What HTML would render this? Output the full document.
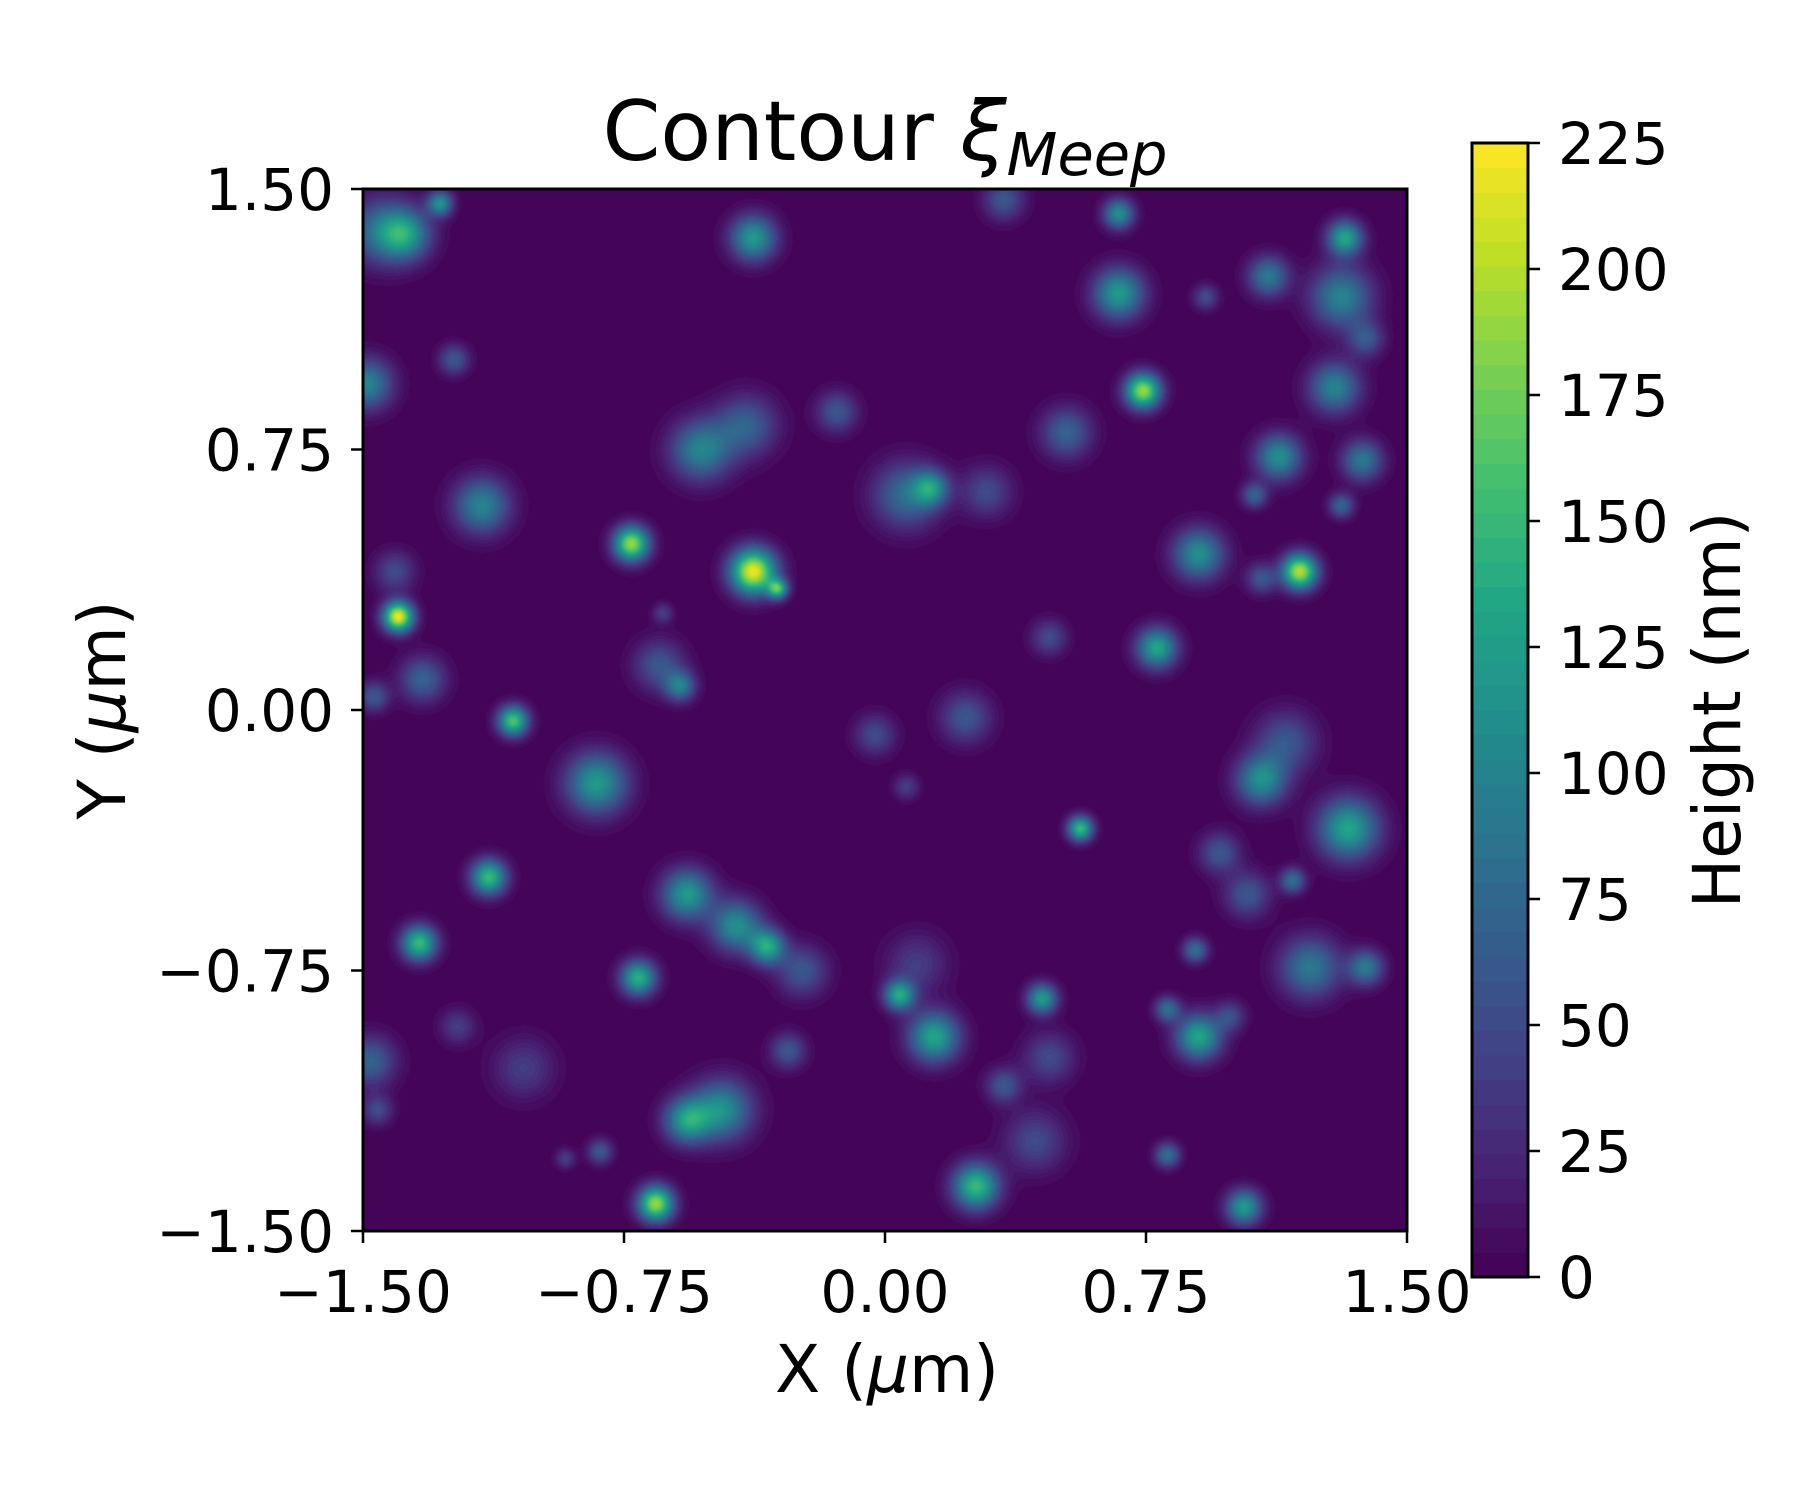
<!DOCTYPE html>
<html><head><meta charset="utf-8">
<style>
html,body{margin:0;padding:0;background:#fff;}
#wrap{position:relative;width:1800px;height:1500px;overflow:hidden;font-family:"DejaVu Sans","Liberation Sans",sans-serif;}
canvas{position:absolute;left:363px;top:189px;}
svg{position:absolute;left:0;top:0;}
</style></head>
<body>
<div id="wrap">
<canvas id="heat" width="1044" height="1042"></canvas>
<svg id="ov" width="1800" height="1500"></svg>
</div>
<script>
// blob data (x, y in µm, height in nm, width sigma in µm)
const blobX=[-1.38,-1.28,-1.45,-0.38,0.34,0.67,0.67,0.92,1.10,1.32,1.31,1.38,1.29,1.37,1.13,1.06,1.31,1.19,1.08,0.74,0.52,0.90,0.78,0.47,0.23,-0.03,0.06,0.13,0.06,0.29,-0.14,-0.53,-0.40,-1.16,-0.73,-0.38,-0.31,-1.41,-1.40,-1.33,-1.47,-1.49,-1.24,-0.64,-0.65,-0.59,-1.07,-0.83,0.56,1.08,1.15,1.33,0.96,1.04,1.17,-1.14,-1.34,-0.71,-0.57,-0.43,-0.34,-0.24,-0.28,0.04,0.09,0.14,0.45,0.47,0.89,0.81,0.90,0.99,1.22,1.38,-1.23,-1.04,-1.48,-1.46,-0.57,-0.47,0.34,0.43,-0.82,-0.92,-0.66,0.26,0.81,1.03];
const blobY=[1.37,1.46,1.38,1.36,1.47,1.43,1.20,1.19,1.25,1.36,1.19,1.07,0.93,0.72,0.73,0.62,0.59,0.40,0.38,0.92,0.80,0.45,0.18,0.21,-0.02,-0.07,-0.22,0.64,0.62,0.63,0.86,0.75,0.82,0.59,0.48,0.40,0.35,0.40,0.27,0.09,0.04,0.94,1.01,0.28,0.13,0.07,-0.03,-0.21,-0.34,-0.20,-0.09,-0.34,-0.41,-0.53,-0.49,-0.48,-0.67,-0.77,-0.53,-0.62,-0.68,-0.75,-0.98,-0.82,-0.73,-0.94,-0.83,-1.00,-0.69,-0.86,-0.94,-0.88,-0.74,-0.74,-0.91,-1.03,-1.01,-1.15,-1.18,-1.15,-1.08,-1.24,-1.27,-1.29,-1.42,-1.37,-1.28,-1.43];
const blobH=[105,110,80,120,60,110,120,50,90,130,100,60,100,90,110,70,70,200,60,190,70,110,130,50,60,50,40,100,80,50,60,100,70,100,190,220,140,50,220,70,60,100,60,40,60,90,160,120,150,110,60,130,60,60,80,150,150,140,120,110,130,60,60,130,40,130,120,50,80,80,130,50,90,90,40,40,70,50,120,110,60,50,60,40,190,150,80,120];
const blobS=[0.05,0.025,0.065,0.045,0.04,0.03,0.05,0.025,0.04,0.035,0.06,0.035,0.05,0.04,0.045,0.025,0.025,0.035,0.03,0.035,0.05,0.05,0.04,0.035,0.05,0.04,0.025,0.035,0.065,0.05,0.04,0.06,0.06,0.055,0.035,0.045,0.02,0.04,0.03,0.045,0.03,0.05,0.03,0.02,0.05,0.03,0.03,0.06,0.025,0.05,0.06,0.06,0.04,0.045,0.025,0.035,0.035,0.035,0.05,0.05,0.035,0.05,0.035,0.03,0.06,0.05,0.03,0.05,0.025,0.025,0.045,0.03,0.06,0.035,0.035,0.06,0.05,0.03,0.045,0.06,0.035,0.06,0.025,0.02,0.035,0.045,0.025,0.035];
const xTicks=[-1.5,-0.75,0,0.75,1.5];
const xTickLabels=["\u22121.50","\u22120.75","0.00","0.75","1.50"];
const yTicks=[-1.5,-0.75,0,0.75,1.5];
const yTickLabels=["\u22121.50","\u22120.75","0.00","0.75","1.50"];
const cbTicks=[0,25,50,75,100,125,150,175,200,225];
const vmax=225, nLevels=46;

const PL=363,PT=189,PW=1044,PH=1042;
const CBL=1472,CBT=143,CBW=56,CBH=1134;
function sx(v){return PL+(v+1.5)/3*PW;}
function sy(v){return PT+(1.5-v)/3*PH;}
function cy(v){return CBT+CBH-(v/vmax)*CBH;}

const vir=[[68,1,84],[72,36,117],[65,68,135],[53,95,141],[42,120,142],[33,145,140],[34,168,132],[68,191,112],[122,209,81],[189,223,38],[253,231,37]];
function viridis(t){t=Math.max(0,Math.min(1,t));const f=t*(vir.length-1);const i=Math.min(vir.length-2,Math.floor(f));const r=f-i;const a=vir[i],b=vir[i+1];return [a[0]+(b[0]-a[0])*r,a[1]+(b[1]-a[1])*r,a[2]+(b[2]-a[2])*r];}
function levelColor(k){return viridis((k+0.5)/nLevels);}

const cv=document.getElementById('heat');const ctx=cv.getContext('2d');
const field=new Float32Array(PW*PH);
for(let b=0;b<blobX.length;b++){
  const s=blobS[b],h=blobH[b];
  const cx=(blobX[b]+1.5)/3*PW, cyy=(1.5-blobY[b])/3*PH;
  const sp=s/3*PW, R=sp*4.5;
  const x0=Math.max(0,Math.floor(cx-R)),x1=Math.min(PW-1,Math.ceil(cx+R));
  const y0=Math.max(0,Math.floor(cyy-R)),y1=Math.min(PH-1,Math.ceil(cyy+R));
  const inv=1/(2*sp*sp);
  for(let y=y0;y<=y1;y++){const dy=y-cyy;for(let x=x0;x<=x1;x++){const dx=x-cx;field[y*PW+x]+=h*Math.exp(-(dx*dx+dy*dy)*inv);}}
}
const img=ctx.createImageData(PW,PH);
const step=vmax/nLevels;
for(let i=0;i<PW*PH;i++){let k=Math.floor(field[i]/step);if(k>=nLevels)k=nLevels-1;const c=levelColor(k);img.data[i*4]=c[0];img.data[i*4+1]=c[1];img.data[i*4+2]=c[2];img.data[i*4+3]=255;}
ctx.putImageData(img,0,0);

const NS='http://www.w3.org/2000/svg';const svg=document.getElementById('ov');
function mk(tag,attrs,parent){const e=document.createElementNS(NS,tag);for(const k in attrs)e.setAttribute(k,attrs[k]);(parent||svg).appendChild(e);return e;}

const frame=mk('rect',{x:PL,y:PT,width:PW,height:PH,fill:'none',stroke:'#000','stroke-width':3});



xTicks.forEach((v,i)=>{
  const g=mk('g',{});
  
  
  mk('line',{x1:sx(v),x2:sx(v),y1:PT+PH,y2:PT+PH+12,stroke:'#000','stroke-width':2.5},g);
  const t=mk('text',{x:sx(v),y:1312,'text-anchor':'middle','font-size':58,fill:'#000'},g);t.textContent=xTickLabels[i];
});
yTicks.forEach((v,i)=>{
  const g=mk('g',{});
  
  
  mk('line',{x1:PL-12,x2:PL,y1:sy(v),y2:sy(v),stroke:'#000','stroke-width':2.5},g);
  const t=mk('text',{x:PL-29,y:sy(v)+21,'text-anchor':'end','font-size':58,fill:'#000'},g);t.textContent=yTickLabels[i];
});

const cbg=mk('g',{});


for(let k=0;k<nLevels;k++){
  const c=levelColor(k);
  const r=mk('rect',{x:CBL,y:cy((k+1)*step)-0.5,width:CBW,height:(cy(k*step)-cy((k+1)*step))+1,fill:`rgb(${c[0]|0},${c[1]|0},${c[2]|0})`},cbg);
  
  
}
mk('rect',{x:CBL,y:CBT,width:CBW,height:CBH,fill:'none',stroke:'#000','stroke-width':3},cbg);
cbTicks.forEach(v=>{
  const g=mk('g',{},cbg);
  
  
  mk('line',{x1:CBL+CBW,x2:CBL+CBW+12,y1:cy(v),y2:cy(v),stroke:'#000','stroke-width':2.5},g);
  const t=mk('text',{x:1558,y:cy(v)+21,'font-size':58,fill:'#000'},g);t.textContent=String(v);
});
</script>
<svg width="1800" height="1500" style="position:absolute;left:0;top:0;pointer-events:none">
<text x="885" y="160" text-anchor="middle" font-family="DejaVu Sans, Liberation Sans, sans-serif" font-size="83" fill="#000">Contour <tspan font-style="italic">ξ</tspan><tspan font-style="italic" font-size="59" dy="15">Meep</tspan></text>
<text x="887" y="1392" text-anchor="middle" font-family="DejaVu Sans, Liberation Sans, sans-serif" font-size="66" fill="#000">X (<tspan font-style="italic">μ</tspan>m)</text>
<text transform="translate(125,710) rotate(-90)" text-anchor="middle" font-family="DejaVu Sans, Liberation Sans, sans-serif" font-size="66" fill="#000">Y (<tspan font-style="italic">μ</tspan>m)</text>
<text transform="translate(1740,710) rotate(-90)" text-anchor="middle" font-family="DejaVu Sans, Liberation Sans, sans-serif" font-size="66" fill="#000">Height (nm)</text>
</svg>
</body></html>
